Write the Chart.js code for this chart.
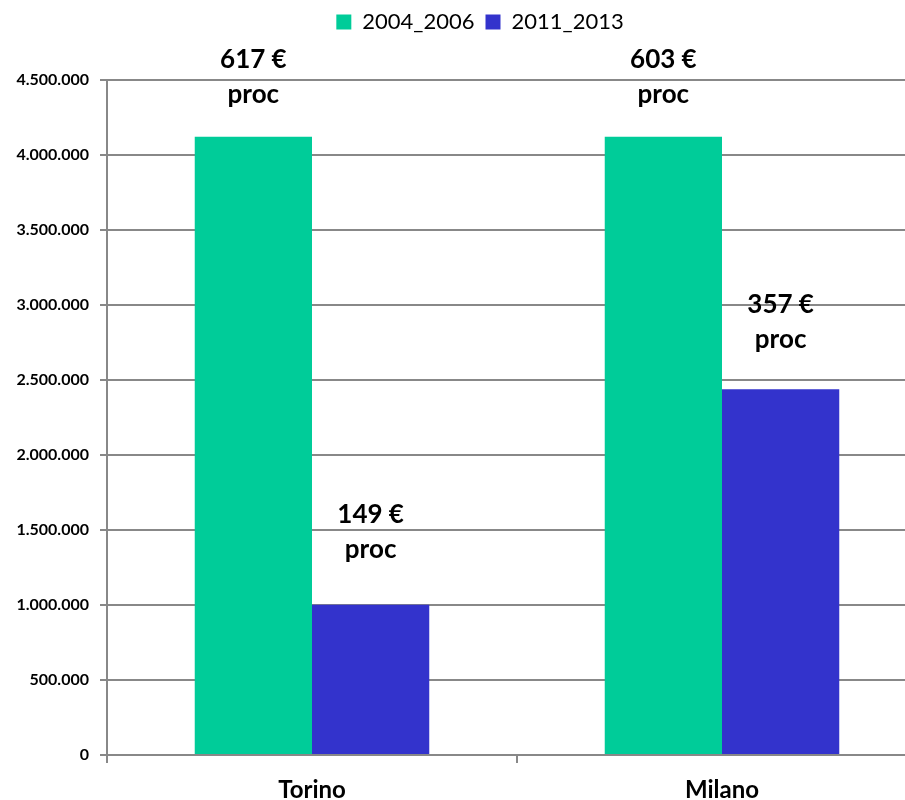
<!DOCTYPE html>
<html>
<head>
<meta charset="utf-8">
<script src="https://cdn.jsdelivr.net/npm/chart.js@4.4.1/dist/chart.umd.min.js"></script>
<style>
  body { margin: 0; overflow: hidden; background: #fff; }
  #wrap { width: 935px; height: 800px; }
</style>
</head>
<body>
<div id="wrap"><canvas id="myChart" width="935" height="800"></canvas></div>
<script>
// data
const cities = ['Torino', 'Milano'];
const seriesNames = ['2004_2006', '2011_2013'];
const values0406 = [4121000, 4121000];
const values1113 = [1001000, 2438000];
const proc0406 = ['617 €', '603 €'];
const proc1113 = ['149 €', '357 €'];
const yTicks = [0, 500000, 1000000, 1500000, 2000000, 2500000, 3000000, 3500000, 4000000, 4500000];

const ctx = document.getElementById('myChart').getContext('2d');
const gridGray = '#888888';
Chart.defaults.font.family = 'Lato';
Chart.defaults.color = '#000';

function formatThousands(v) {
    return String(v).replace(/\B(?=(\d{3})+(?!\d))/g, '.');
}

// gap (px) between bar top and baseline of "proc", per dataset / per bar
const labelGap = [[34, 34], [47, 41]];

const procLabels = {
    id: 'procLabels',
    afterDatasetsDraw(chart) {
        const c = chart.ctx;
        const texts = [proc0406, proc1113];
        c.save();
        c.fillStyle = '#000';
        c.textAlign = 'center';
        c.textBaseline = 'alphabetic';
        c.font = 'bold 26px Lato';
        chart.data.datasets.forEach((ds, i) => {
            chart.getDatasetMeta(i).data.forEach((bar, j) => {
                const base = bar.y - labelGap[i][j];
                c.fillText(texts[i][j], bar.x, base - 35);
                c.fillText('proc', bar.x, base);
            });
        });
        c.restore();
    }
};

// legend box taller so the plot starts lower, y axis labels not clipped by left padding
const layoutTweaks = {
    id: 'layoutTweaks',
    beforeInit(chart) {
        const fit = chart.legend.fit;
        chart.legend.fit = function () {
            fit.bind(chart.legend)();
            this.height = 80;
        };
    },
    afterLayout(chart) {
        chart.scales.y.left = 0;
    }
};

const myChart = new Chart(ctx, {
    type: 'bar',
    data: {
        labels: cities,
        datasets: [{
            label: seriesNames[0],
            data: values0406,
            backgroundColor: '#00CC99',
            borderWidth: 0
        }, {
            label: seriesNames[1],
            data: values1113,
            backgroundColor: '#3333CC',
            borderWidth: 0
        }]
    },
    options: {
        responsive: false,
        animation: false,
        layout: { padding: { left: 33, right: 8, top: 0, bottom: 0 } },
        datasets: {
            bar: { barPercentage: 1, categoryPercentage: 0.572 }
        },
        scales: {
            x: {
                grid: { display: true, drawOnChartArea: false, tickLength: 8, color: gridGray, lineWidth: 2 },
                border: { display: true, color: gridGray, width: 2 },
                ticks: { font: { size: 24, weight: 'bold' }, padding: 13 },
                afterFit(scale) { scale.height = 45; }
            },
            y: {
                min: 0,
                max: 4500000,
                afterBuildTicks(scale) { scale.ticks = yTicks.map(v => ({ value: v })); },
                grid: { color: gridGray, lineWidth: 2, tickLength: 7 },
                border: { display: true, color: gridGray, width: 2 },
                ticks: {
                    font: { size: 16, weight: 'bold' },
                    padding: 11,
                    callback: v => formatThousands(v)
                },
                afterFit(scale) { scale.width = 74; }
            }
        },
        plugins: {
            legend: {
                position: 'top',
                labels: {
                    boxWidth: 15,
                    boxHeight: 15,
                    padding: 11,
                    font: { size: 22 },
                    color: '#000'
                }
            },
            tooltip: { enabled: false }
        }
    },
    plugins: [layoutTweaks, procLabels]
});
</script>
</body>
</html>
